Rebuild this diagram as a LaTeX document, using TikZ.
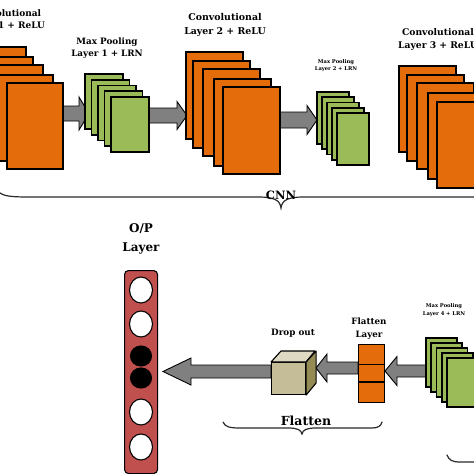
\documentclass[tikz,border=0pt]{standalone}
\usepackage{fontspec}
\setmainfont{DejaVu Serif}
\usetikzlibrary{calc,shapes.geometric}
\definecolor{orng}{HTML}{E46C0A}
\definecolor{grn}{HTML}{9BBB59}
\definecolor{redc}{HTML}{C0504D}
\definecolor{arrg}{HTML}{808080}
\definecolor{cubef}{HTML}{C4BD97}
\definecolor{cubet}{HTML}{DDD9C3}
\definecolor{cubes}{HTML}{948A54}
\definecolor{brc}{HTML}{2A2A2A}
\newcommand{\blockarrow}[5]{%
  \draw[barrow] let \p1=(#1), \p2=(#2) in
    (\x1,\y1+#3) -- (\x2-#5,\y1+#3) -- (\x2-#5,\y1+#4) -- (\x2,\y1)
    -- (\x2-#5,\y1-#4) -- (\x2-#5,\y1-#3) -- (\x1,\y1-#3) -- cycle;}
\begin{document}
\begin{tikzpicture}[x=1pt,y=-1pt,
  obox/.style={draw=black,fill=orng,line width=1.1pt,inner sep=0pt,outer sep=0pt,
    anchor=north west,minimum width=56pt,minimum height=86pt},
  gbox/.style={draw=black,fill=grn,line width=1.1pt,inner sep=0pt,outer sep=0pt,
    anchor=north west},
  barrow/.style={draw=black,fill=arrg,line width=0.9pt,line join=miter},
  brace/.style={draw=brc,line width=1.2pt,line cap=round},
  lab/.style={align=center,inner sep=0pt,font=\bfseries},
  circw/.style={ellipse,draw=black,fill=white,line width=1.1pt,inner sep=0pt,
    minimum width=23pt,minimum height=26pt},
  circb/.style={ellipse,draw=black,fill=black,line width=1.1pt,inner sep=0pt,
    minimum width=21pt,minimum height=20pt}]
\useasboundingbox (0,0) rectangle (474,474);
\fill[white] (0,0) rectangle (474,474);

% arrow end coordinates
\coordinate (a1s) at (63,113.5);  \coordinate (a1t) at (89,113.5);
\coordinate (a2s) at (149,115.5); \coordinate (a2t) at (187,115.5);
\coordinate (a3s) at (280,120);   \coordinate (a3t) at (317,120);
\coordinate (a4s) at (271,371.5); \coordinate (a4t) at (163,371.5);
\coordinate (a5s) at (358,368);   \coordinate (a5t) at (316,368);
\coordinate (a6s) at (426,371);   \coordinate (a6t) at (385,371);

% top arrows (under the layers)
\blockarrow{a1s}{a1t}{7.5pt}{16.5pt}{10pt}
\blockarrow{a2s}{a2t}{7.5pt}{14pt}{10pt}
\blockarrow{a3s}{a3t}{8pt}{14.5pt}{10pt}

% Conv layer 1
\node[obox] (c1a) at (-30,47) {};
\node[obox] (c1b) at (-23,57) {};
\node[obox] (c1c) at (-13,65) {};
\node[obox] (c1d) at (-3,75) {};
\node[obox] (c1e) at (7,83) {};

% Max pool 1
\begin{scope}[every node/.style={gbox,minimum width=38pt,minimum height=55pt}]
\node (p1a) at (85,74) {};
\node (p1b) at (91.5,80) {};
\node (p1c) at (98,85.5) {};
\node (p1d) at (104.5,91) {};
\node (p1e) at (111,97) {};
\end{scope}

% Conv layer 2
\begin{scope}[every node/.style={obox,minimum width=57pt,minimum height=87pt}]
\node (c2a) at (186,52) {};
\node (c2b) at (193,61) {};
\node (c2c) at (203,69) {};
\node (c2d) at (214,79) {};
\node (c2e) at (223,87) {};
\end{scope}

% Max pool 2
\begin{scope}[every node/.style={gbox,minimum width=32pt,minimum height=52pt}]
\node (p2a) at (317,92) {};
\node (p2b) at (322,97) {};
\node (p2c) at (327,102.5) {};
\node (p2d) at (332,108) {};
\node (p2e) at (337,113) {};
\end{scope}

% Conv layer 3
\begin{scope}[every node/.style={obox,minimum width=57pt,minimum height=86pt}]
\node (c3a) at (399,66) {};
\node (c3b) at (407,75) {};
\node (c3c) at (417,83) {};
\node (c3d) at (428,93) {};
\node (c3e) at (437,102) {};
\end{scope}

% labels top
\node[lab,font=\bfseries\fontsize{9}{12}\selectfont] (l1) at (6,20) {Convolutional\\Layer 1 + ReLU};
\node[lab,font=\bfseries\fontsize{8.8}{12.3}\selectfont] (l2) at (107,48) {Max Pooling\\Layer 1 + LRN};
\node[lab,font=\bfseries\fontsize{9.4}{14.5}\selectfont] (l3) at (225,25) {Convolutional\\Layer 2 + ReLU};
\node[lab,font=\bfseries\fontsize{5.2}{7.2}\selectfont] (l4) at (336,65.5) {Max Pooling\\Layer 2 + LRN};
\node[lab,font=\bfseries\fontsize{9.2}{13}\selectfont] (l5) at (438,39.5) {Convolutional\\Layer 3 + ReLU};

% CNN brace
\draw[brace] (-3,189) .. controls (0,196) and (8,197) .. (30,197) -- (258,197)
  .. controls (274,197) and (280,200) .. (281,208)
  .. controls (282,200) and (288,197) .. (304,197) -- (480,197);
\node[lab,font=\bfseries\fontsize{11.5}{13}\selectfont] (cnn) at (281,195) {CNN};

% O/P layer
\node[lab,font=\bfseries\fontsize{12}{19}\selectfont] (opl) at (141,239) {O/P\\Layer};
\node[draw=black,fill=redc,line width=1.1pt,rounded corners=4pt,inner sep=0pt,
  anchor=north west,minimum width=33pt,minimum height=203pt] (col) at (124,270) {};
\node[circw] (o1) at (141,290) {};
\node[circw] (o2) at (141,324) {};
\node[circb] (o3) at (141,356) {};
\node[circb] (o4) at (141,378) {};
\node[circw] (o5) at (141,412) {};
\node[circw] (o6) at (141,447) {};

% bottom arrows
\blockarrow{a4s}{a4t}{6.5pt}{13.5pt}{-28pt}
\blockarrow{a5s}{a5t}{6pt}{14pt}{-11pt}
\blockarrow{a6s}{a6t}{6pt}{14.5pt}{-12pt}

% Drop out cube
\node[draw=black,fill=cubef,line width=1.1pt,inner sep=0pt,anchor=north west,
  minimum width=34pt,minimum height=32pt] (drop) at (271,362) {};
\draw[fill=cubet,line width=1.1pt,line join=round] (drop.north west) -- ++(10,-11) -- ++(34,0) -- (drop.north east) -- cycle;
\draw[fill=cubes,line width=1.1pt,line join=round] (drop.north east) -- ++(10,-11) -- ++(0,32) -- (drop.south east) -- cycle;
\node[lab,font=\bfseries\fontsize{8.8}{10}\selectfont] (dl) at (293,333) {Drop out};

% Flatten layer
\node[draw=black,fill=orng,line width=1.1pt,inner sep=0pt,anchor=north west,
  minimum width=26pt,minimum height=58pt] (fl) at (358,344) {};
\draw[line width=1.1pt] (358,364.5) -- (384,364.5) (358,382) -- (384,382);
\node[lab,font=\bfseries\fontsize{8.7}{13}\selectfont] (fll) at (369,329) {Flatten\\Layer};

% Max pool 4
\begin{scope}[every node/.style={gbox,minimum width=31pt,minimum height=49pt}]
\node (p4a) at (426,338) {};
\node (p4b) at (431,343) {};
\node (p4c) at (436.5,348) {};
\node (p4d) at (442,353) {};
\node (p4e) at (447,358) {};
\end{scope}
\node[lab,font=\bfseries\fontsize{5.2}{8}\selectfont] (l6) at (444,310.5) {Max Pooling\\Layer 4 + LRN};

% Flatten brace
\draw[brace] (223,422) .. controls (225,427) and (230,428) .. (240,428) -- (288,428)
  .. controls (298,428) and (301,430) .. (302,434)
  .. controls (303,430) and (306,428) .. (316,428) -- (372,428)
  .. controls (378,428) and (381,426) .. (382,422);
\node[lab,font=\bfseries\fontsize{12.5}{14}\selectfont] (flt) at (306,421) {Flatten};

% bottom-right brace piece
\draw[brace] (447,455) .. controls (449,460) and (452,462) .. (460,462) -- (480,462);
\end{tikzpicture}
\end{document}
